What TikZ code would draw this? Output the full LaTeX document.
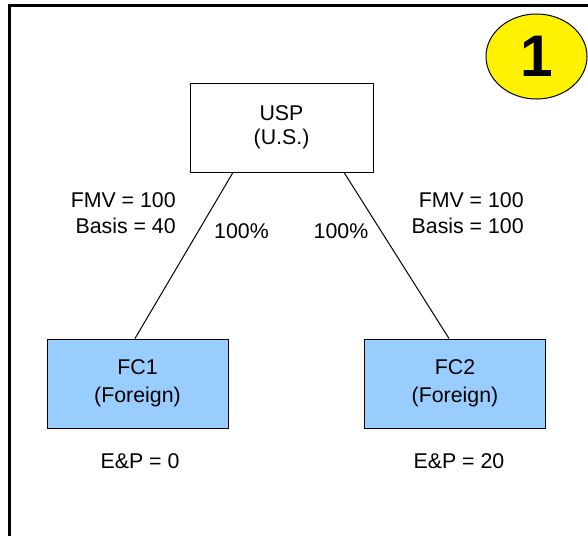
\documentclass[tikz,border=0pt]{standalone}
\usepackage{fontspec}
\setmainfont{Liberation Sans}
\usepackage{tikz}
\usetikzlibrary{shapes.geometric, arrows, positioning, calc}
\definecolor{fcblue}{RGB}{153,204,255}
\tikzstyle{parent} = [rectangle, minimum width=137.25pt, minimum height=66.75pt, inner sep=0pt, text centered, align=center, draw=black, line width=0.75pt, fill=white, font=\fontsize{16}{18}\selectfont]
\tikzstyle{foreign} = [rectangle, minimum width=135.75pt, minimum height=66.75pt, inner sep=0pt, text centered, align=center, draw=black, line width=0.75pt, fill=fcblue, font=\fontsize{16}{21}\selectfont]
\tikzstyle{note} = [inner sep=0pt, font=\fontsize{16}{19.5}\selectfont]
\tikzstyle{owns} = [line width=0.75pt, -]

\begin{document}
\begin{tikzpicture}[x=0.75pt, y=-0.75pt]
    \useasboundingbox (0,0) rectangle (588,535);
    % Page frame
    \draw [line width=2.25pt] (9,545) -- (9,6) -- (600,6);

    % Step badge
    \node (badge) at (536.5,56.5) [ellipse, draw, line width=0.75pt, fill=yellow, minimum width=75.75pt, minimum height=63.75pt, inner sep=0pt, font=\fontsize{44}{48}\selectfont\bfseries] {1};

    % Entities
    \node (usp) at (281.5,127.5) [parent] {USP\\(U.S.)};
    \node (fc1) at (137.5,383.5) [foreign] {FC1\\(Foreign)};
    \node (fc2) at (455,383.5) [foreign] {FC2\\(Foreign)};

    % Ownership
    \draw [owns] ([xshift=-36.4pt]usp.south) -- ([xshift=-1.9pt]fc1.north);
    \draw [owns] ([xshift=46.9pt]usp.south) -- ([xshift=-4.5pt]fc2.north);

    % Labels
    \node (val1) at (176,213) [note, anchor=east, align=right] {FMV = 100\\Basis = 40};
    \node (val2) at (524,213) [note, anchor=east, align=right] {FMV = 100\\Basis = 100};
    \node (pct1) at (241.5,231) [note] {100\%};
    \node (pct2) at (341,231) [note] {100\%};
    \node (ep1) at (140,461) [note] {E\&P = 0};
    \node (ep2) at (459,461) [note] {E\&P = 20};
\end{tikzpicture}
\end{document}
